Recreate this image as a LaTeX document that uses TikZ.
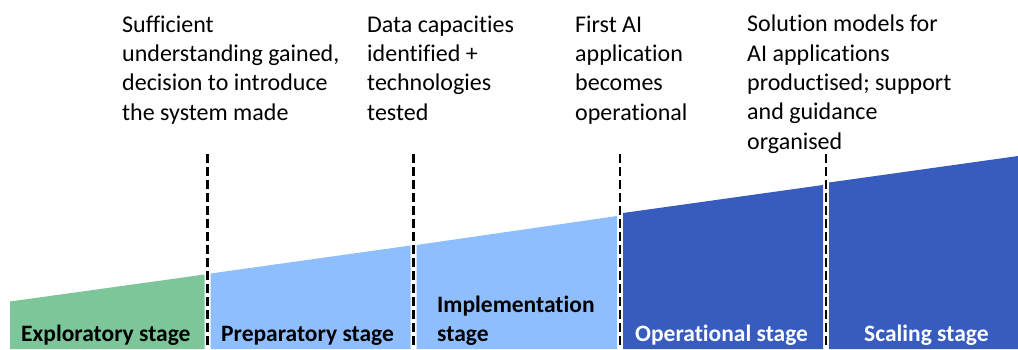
\documentclass[tikz,border=0pt]{standalone}
\usepackage{fontspec}
\setmainfont{Carlito}[Ligatures={NoCommon,NoContextual}]
\definecolor{stgreen}{RGB}{125,198,154}
\definecolor{stlight}{RGB}{143,190,255}
\definecolor{stdark}{RGB}{56,91,190}
\begin{document}
\begin{tikzpicture}[x=1pt,y=-1pt,
  toplabel/.style={anchor=base west,inner sep=0pt,align=left,
    font=\fontsize{24}{29.3}\selectfont,text=black},
  stagelabel/.style={anchor=base west,inner sep=0pt,align=left,
    font=\fontsize{23.5}{29}\selectfont\bfseries},
  divider/.style={draw=black,line width=2.8pt,dash pattern=on 8.5pt off 4.5pt}]
\useasboundingbox (0,0) rectangle (1018,349);
% stage shapes
\fill[stgreen] (10,349) -- (10,301.5) -- (204.5,274.5) -- (204.5,349) -- cycle;
\fill[stlight] (210.5,349) -- (210.5,273.5) -- (410.5,245.5) -- (410.5,349) -- cycle;
\fill[stlight] (416.5,349) -- (416.5,245) -- (617,216) -- (617,349) -- cycle;
\fill[stdark] (623,349) -- (623,213) -- (823,185) -- (823,349) -- cycle;
\fill[stdark] (829,349) -- (829,182.5) -- (1018,156) -- (1018,349) -- cycle;
% dividers
\coordinate (d1t) at (207.5,154); \coordinate (d1b) at (207.5,349);
\coordinate (d2t) at (413.5,154); \coordinate (d2b) at (413.5,349);
\coordinate (d3t) at (620,154); \coordinate (d3b) at (620,349);
\coordinate (d4t) at (826,154); \coordinate (d4b) at (826,349);
\draw[divider] (d1t) -- (d1b);
\draw[divider] (d2t) -- (d2b);
\draw[divider] (d3t) -- (d3b);
\draw[divider] (d4t) -- (d4b);
% stage labels
\node[stagelabel] (s1) at (21,341.5) {Exploratory stage};
\node[stagelabel] (s2) at (221,341.5) {Preparatory stage};
\node[stagelabel] (s3) at (437,341.5) {Implementation\\stage};
\node[stagelabel,text=white] (s4) at (635,341.5) {Operational stage};
\node[stagelabel,text=white] (s5) at (864,341.5) {Scaling stage};
% milestone labels (anchored at the baseline of the last line)
\node[toplabel] (m1) at (122,120) {Sufficient\\understanding gained,\\decision to introduce\\the system made};
\node[toplabel] (m2) at (367,120) {Data capacities\\identified +\\technologies\\tested};
\node[toplabel] (m3) at (575,120) {First AI\\application\\becomes\\operational};
\node[toplabel] (m4) at (747,149) {Solution models for\\AI applications\\productised; support\\and guidance\\organised};
\end{tikzpicture}
\end{document}
